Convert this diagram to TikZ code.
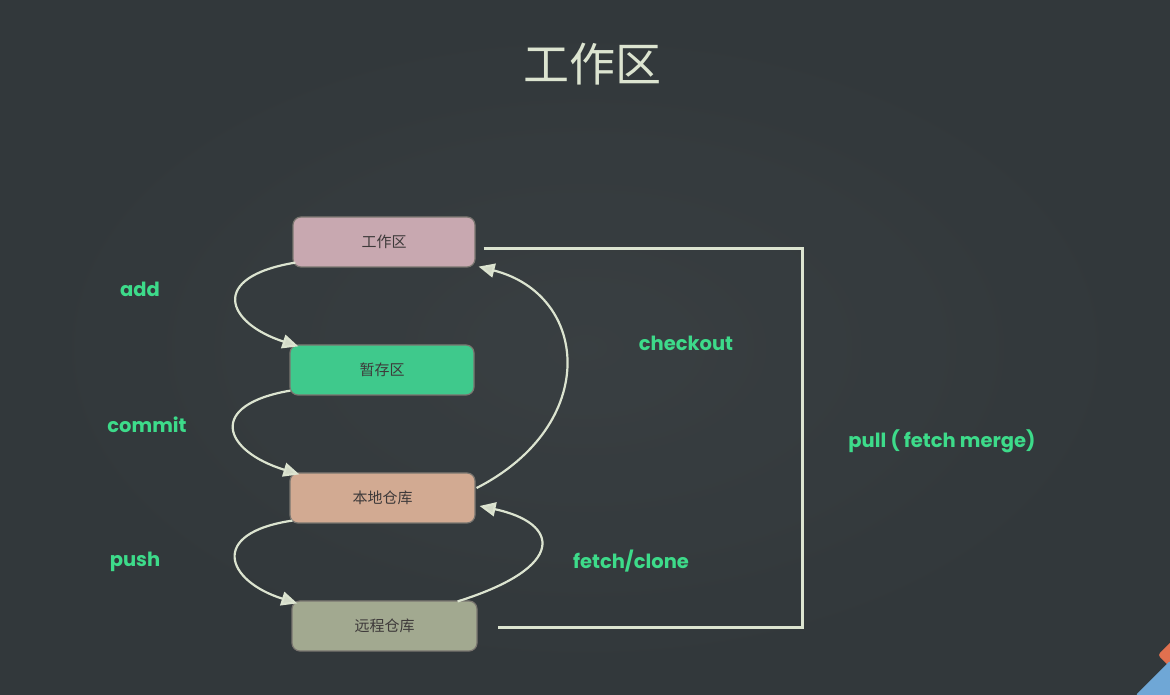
\documentclass[tikz,border=0pt]{standalone}
\usepackage{fontspec}
\setmainfont{Poppins}
\newfontfamily\cjk{Noto Sans CJK SC}
\usetikzlibrary{arrows.meta}
\definecolor{bg}{HTML}{32383B}
\definecolor{chalk}{HTML}{DCE4D0}
\definecolor{lbl}{HTML}{3DDB8A}
\definecolor{boxtxt}{HTML}{3E3A3A}
\definecolor{cws}{HTML}{C8A8B0}
\definecolor{cst}{HTML}{3FC98C}
\definecolor{clr}{HTML}{D2AA92}
\definecolor{crr}{HTML}{A2A990}
\definecolor{boxedge}{HTML}{7A7670}
\definecolor{logoblue}{HTML}{6FA7D6}
\definecolor{logoorange}{HTML}{E0704F}
\tikzset{
  areabox/.style={draw=boxedge, line width=1.2pt, rounded corners=8pt,
    minimum width=#1, minimum height=50pt, inner sep=0pt,
    font=\cjk\fontsize{15}{15}\selectfont, text=boxtxt},
  flow/.style={draw=chalk, line width=2.2pt,
    -{Triangle[length=16pt,width=14pt,fill=chalk!90!gray]}},
  pullline/.style={draw=chalk, line width=3pt},
  cmd/.style={text=lbl, font=\fontsize{19.5}{19.5}\selectfont\bfseries, inner sep=0pt}
}
\begin{document}
\begin{tikzpicture}[x=1pt,y=1pt]
\useasboundingbox (0,0) rectangle (1170,695);
\fill[bg] (0,0) rectangle (1170,695);
\shade[inner color=white!6!bg, outer color=bg, opacity=0.6] (0,0) rectangle (1170,695);

% title
\node[text=chalk, font=\cjk\fontsize{46}{46}\selectfont, inner sep=0pt] (title) at (592,631) {工作区};

% boxes
\node[areabox=182pt, fill=cws] (ws) at (384,453) {工作区};
\node[areabox=184pt, fill=cst] (st) at (382,325) {暂存区};
\node[areabox=185pt, fill=clr] (lr) at (382.5,197) {本地仓库};
\node[areabox=185pt, fill=crr] (rr) at (384.5,69) {远程仓库};

% left arcs
\draw[flow] ([shift={(3pt,5pt)}]ws.south west) .. controls (208,418) and (226,372) .. ([shift={(9pt,-2pt)}]st.north west);
\draw[flow] ([shift={(1pt,5pt)}]st.south west) .. controls (206,290) and (223,244) .. ([shift={(10pt,-2pt)}]lr.north west);
\draw[flow] ([shift={(3pt,3pt)}]lr.south west) .. controls (208,162) and (226,114) .. ([shift={(6pt,-3pt)}]rr.north west);

% right arcs
\draw[flow] ([shift={(1pt,10pt)}]lr.east) .. controls (600,270) and (590,400) .. ([shift={(3pt,1pt)}]ws.south east);
\draw[flow] ([shift={(-20pt,-1pt)}]rr.north east) .. controls (568,128) and (560,172) .. ([shift={(4pt,-8pt)}]lr.east);

% pull line
\coordinate (corner) at (802,446);
\draw[pullline] ([shift={(8pt,-7pt)}]ws.east) -- (corner) |- ([shift={(20pt,-2pt)}]rr.east);

% labels
\node[cmd] (add) at (140,406) {add};
\node[cmd] (commit) at (147,270) {commit};
\node[cmd] (push) at (135,133) {push};
\node[cmd] (checkout) at (686,352) {checkout};
\node[cmd] (fetch) at (631,134) {fetch/clone};
\node[cmd] (pull) at (942,254) {pull ( fetch merge)};

% corner logo
\begin{scope}
\clip (0,0) rectangle (1170,695);
\fill[logoorange, rounded corners=3pt, rotate around={45:(1172,40)}] (1162,30) rectangle (1182,50);
\fill[logoblue, rounded corners=5pt, rotate around={45:(1172,-2)}] (1145,-29) rectangle (1199,25);
\end{scope}
\end{tikzpicture}
\end{document}
